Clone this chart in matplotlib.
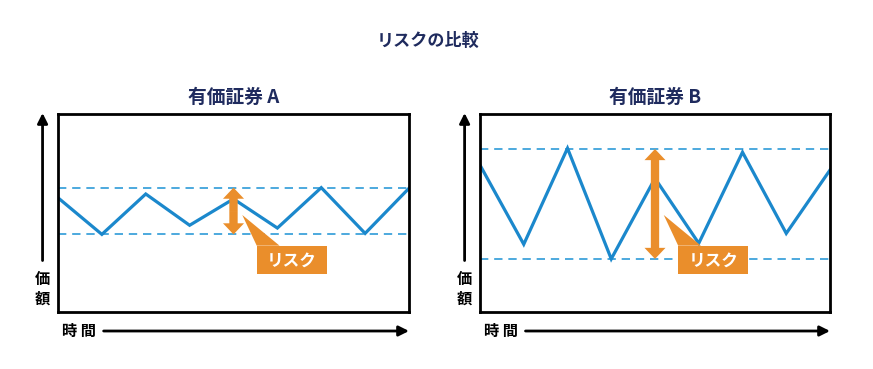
import matplotlib
matplotlib.use('Agg')
import matplotlib.pyplot as plt
from matplotlib.patches import Polygon, FancyArrow, Rectangle

plt.rcParams['font.family'] = ['Noto Sans CJK JP', 'DejaVu Sans']

# data (y: 0 = bottom of box, 100 = top)
t = [0, 1, 2, 3, 4, 5, 6, 7, 8]
price_a = [57.7, 39.2, 59.6, 43.8, 57.1, 42.4, 62.8, 39.7, 62.5]
price_b = [74.2, 34.2, 82.7, 26.8, 67.5, 34.7, 80.7, 39.7, 71.7]
titles = ['有価証券 A', '有価証券 B']
band_a = (39.2, 62.8)
band_b = (26.8, 82.3)
risk_at = 4

NAVY = '#1f2b5e'
BLUE = '#1b88cc'
DASH = '#2e9bd8'
ORANGE = '#ea8e2b'


def panel(ax, title, y, band):
    ax.set_xlim(0, 8)
    ax.set_ylim(0, 100)
    ax.set_xticks([])
    ax.set_yticks([])
    for s in ax.spines.values():
        s.set_linewidth(2.0)
        s.set_color('black')
    ax.set_title(title, color=NAVY, fontsize=13.5, fontweight='bold', pad=8)

    lo, hi = band
    for v in band:
        ax.axhline(v, color=DASH, lw=1.2, ls=(0, (5, 3.5)), zorder=1)
    ax.plot(t, y, color=BLUE, lw=2.3, zorder=2, solid_joinstyle='miter')

    # double arrow for risk
    mid = (lo + hi) / 2
    for end in (hi, lo):
        ax.add_patch(FancyArrow(risk_at, mid, 0, end - mid, width=0.19,
                                head_width=0.48, head_length=5.6,
                                length_includes_head=True, color=ORANGE,
                                lw=0, zorder=4))

    # callout label
    ax.add_patch(Polygon([(risk_at + 0.2, 49), (risk_at + 0.53, 33.5),
                          (risk_at + 1.05, 33.5)], closed=True, fc=ORANGE,
                         ec='none', zorder=4))
    ax.add_patch(Rectangle((risk_at + 0.53, 19.3), 1.6, 14.0, fc=ORANGE,
                           ec='none', zorder=4))
    ax.text(risk_at + 1.33, 26.1, 'リスク', color='white', fontsize=12,
            fontweight='bold', ha='center', va='center', zorder=5)

    # outer axis arrows
    head = '-|>,head_length=0.6,head_width=0.3'
    ax.annotate('', xy=(-0.044, 1.005), xytext=(-0.044, 0.26),
                xycoords='axes fraction',
                arrowprops=dict(arrowstyle=head, lw=2, color='black',
                                shrinkA=0, shrinkB=0),
                annotation_clip=False)
    ax.annotate('', xy=(1.0, -0.096), xytext=(0.13, -0.096),
                xycoords='axes fraction',
                arrowprops=dict(arrowstyle=head, lw=2, color='black',
                                shrinkA=0, shrinkB=0),
                annotation_clip=False)
    ax.text(-0.044, 0.116, '価\n額', transform=ax.transAxes, ha='center',
            va='center', fontsize=11, fontweight='bold', linespacing=1.3)
    ax.text(0.061, -0.098, '時 間', transform=ax.transAxes, ha='center',
            va='center', fontsize=11, fontweight='bold')


fig = plt.figure(figsize=(8.73, 3.69), dpi=100)
ax_a = fig.add_axes([58 / 873, 57 / 369, 351 / 873, 198 / 369])
ax_b = fig.add_axes([480 / 873, 57 / 369, 350 / 873, 198 / 369])
panel(ax_a, titles[0], price_a, band_a)
panel(ax_b, titles[1], price_b, band_b)

fig.text(0.490, 0.889, 'リスクの比較', color=NAVY, fontsize=12.3,
         fontweight='bold', ha='center', va='center')

fig.savefig('out.png', dpi=100)
